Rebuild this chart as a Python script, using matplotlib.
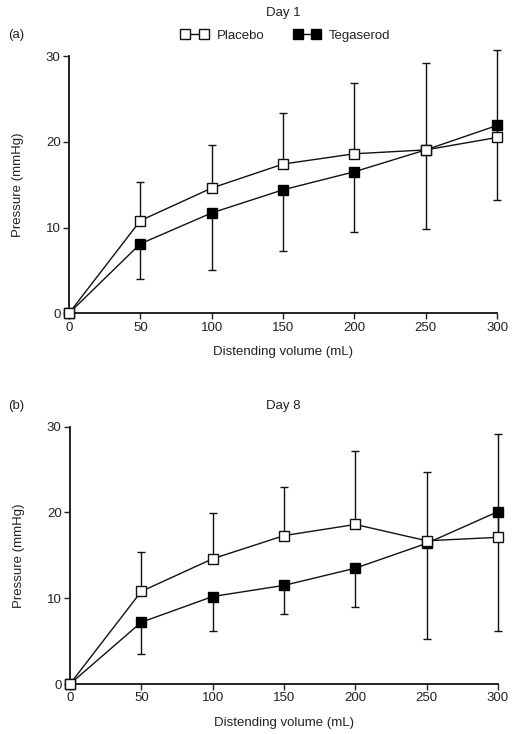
import matplotlib
matplotlib.use("Agg")
import matplotlib.pyplot as plt

plt.rcParams["font.family"] = ["Liberation Sans", "DejaVu Sans"]
plt.rcParams["font.size"] = 9
plt.rcParams["text.color"] = "#222222"
plt.rcParams["axes.labelcolor"] = "#222222"
plt.rcParams["xtick.color"] = "#222222"
plt.rcParams["ytick.color"] = "#222222"

# distending volumes (mL)
volume = [0, 50, 100, 150, 200, 250, 300]

# Day 1
placebo_d1 = [0, 10.8, 14.6, 17.4, 18.6, 19.05, 20.5]
placebo_d1_upper = [0, 15.3, 19.6, 23.4, 26.8, 29.2, 30.7]
tegaserod_d1 = [0, 8.1, 11.7, 14.4, 16.5, 19.05, 21.9]
tegaserod_d1_lower = [0, 3.95, 5.1, 7.3, 9.5, 9.8, 13.2]

# Day 8
placebo_d8 = [0, 10.8, 14.6, 17.3, 18.6, 16.7, 17.1]
placebo_d8_upper = [0, 15.4, 19.9, 23.0, 27.2, 24.7, 29.2]
tegaserod_d8 = [0, 7.2, 10.2, 11.5, 13.5, 16.4, 20.1]
tegaserod_d8_lower = [0, 3.55, 6.2, 8.2, 9.0, 5.2, 6.2]

fig = plt.figure(figsize=(5.18, 7.34), dpi=100)
ax1 = fig.add_axes([0.1332, 0.5732, 0.8263, 0.3505])
ax2 = fig.add_axes([0.1351, 0.0681, 0.8263, 0.3506])


def draw(ax, pl, pl_up, te, te_lo):
    pl_err = [[0] * len(pl), [u - v for u, v in zip(pl_up, pl)]]
    te_err = [[v - l for v, l in zip(te, te_lo)], [0] * len(te)]
    sel = slice(1, None)
    ax.errorbar(volume[sel], pl[sel], yerr=[pl_err[0][sel], pl_err[1][sel]],
                fmt="none", ecolor="#111111", elinewidth=1, capsize=3, capthick=1,
                clip_on=False)
    ax.errorbar(volume[sel], te[sel], yerr=[te_err[0][sel], te_err[1][sel]],
                fmt="none", ecolor="#111111", elinewidth=1, capsize=3, capthick=1,
                clip_on=False)
    l2, = ax.plot(volume, te, color="#111111", lw=1, marker="s", ms=6.5,
                  mfc="black", mec="black", mew=1, clip_on=False, zorder=3,
                  label="Tegaserod")
    l1, = ax.plot(volume, pl, color="#111111", lw=1, marker="s", ms=6.5,
                  mfc="white", mec="#111111", mew=1, clip_on=False, zorder=4,
                  label="Placebo")
    ax.set_xlim(0, 300)
    ax.set_ylim(0, 30)
    ax.set_xticks(volume)
    ax.set_yticks([0, 10, 20, 30])
    for s in ["top", "right"]:
        ax.spines[s].set_visible(False)
    for s in ["left", "bottom"]:
        ax.spines[s].set_linewidth(1.3)
        ax.spines[s].set_color("#111111")
    ax.tick_params(direction="out", length=4, width=1, labelsize=9.5, pad=2)
    ax.set_xlabel("Distending volume (mL)", fontsize=9.5, labelpad=9)
    ax.set_ylabel("Pressure (mmHg)", fontsize=9.5, labelpad=16)
    return l1, l2


h1, h2 = draw(ax1, placebo_d1, placebo_d1_upper, tegaserod_d1, tegaserod_d1_lower)
draw(ax2, placebo_d8, placebo_d8_upper, tegaserod_d8, tegaserod_d8_lower)

fig.text(283 / 518, 1 - 13 / 734, "Day 1", ha="center", va="center", fontsize=9.5)
fig.text(8 / 518, 1 - 35 / 734, "(a)", ha="left", va="center", fontsize=9.5)
fig.text(283 / 518, 1 - 406 / 734, "Day 8", ha="center", va="center", fontsize=9.5)
fig.text(8 / 518, 1 - 406 / 734, "(b)", ha="left", va="center", fontsize=9.5)

fig.legend([h1, h2], ["Placebo", "Tegaserod"], loc="center",
           bbox_to_anchor=(286 / 518, 1 - 36 / 734), ncol=2, frameon=False,
           numpoints=2, handlelength=2.0, handletextpad=0.7, columnspacing=2.2,
           fontsize=9.5)

fig.savefig("out.png", dpi=100)
